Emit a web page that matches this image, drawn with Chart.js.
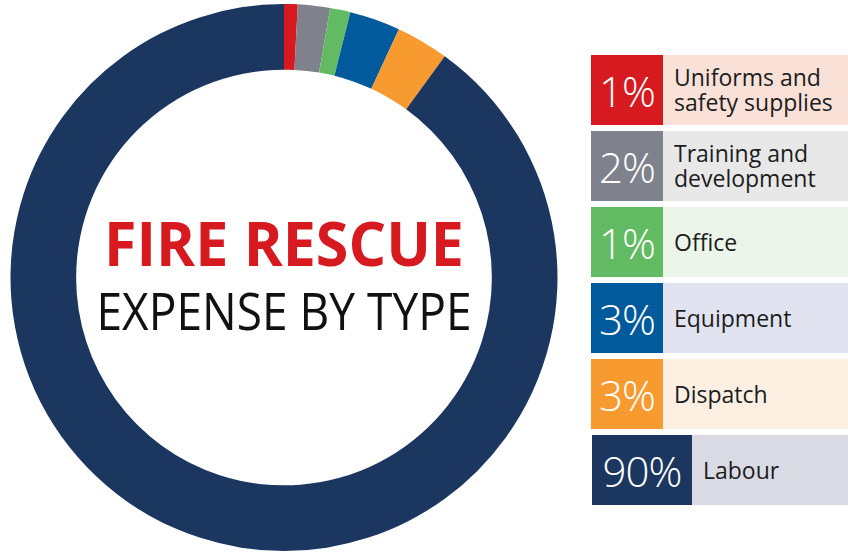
<!DOCTYPE html>
<html>
<head>
<meta charset="utf-8">
<script src="https://cdn.jsdelivr.net/npm/chart.js@4.4.1/dist/chart.umd.min.js"></script>
<style>
  html, body { margin: 0; padding: 0; background: #fff; }
  #wrap { position: relative; width: 848px; height: 555px; overflow: hidden; }
  #chart-box { position: absolute; left: 0; top: 0; width: 568px; height: 555px; }
  #legend { position: absolute; left: 591px; top: 55px; width: 257px; }
  .row { display: flex; height: 70px; margin-bottom: 6px; }
  .pct { width: 72px; color: #fff; font-family: "Open Sans", sans-serif; font-weight: 300;
         font-size: 42px; display: flex; align-items: center; justify-content: center; letter-spacing: -1px; }
  .lbl { flex: 1; display: flex; align-items: center; padding-left: 11px;
         font-family: "Open Sans", sans-serif; font-size: 23px; line-height: 25px; color: #1c1c1c; }
</style>
</head>
<body>
<div id="wrap">
  <div id="chart-box"><canvas id="chart-area"></canvas></div>
  <div id="legend"></div>
</div>
<script>
(function () {
    'use strict';

    var categories = ['Uniforms and safety supplies', 'Training and development', 'Office', 'Equipment', 'Dispatch', 'Labour'];
    var lines = [['Uniforms and', 'safety supplies'], ['Training and', 'development'], ['Office'], ['Equipment'], ['Dispatch'], ['Labour']];
    var values = [0.8, 1.9, 1.2, 3.0, 3.1, 90];
    var percentLabels = ['1%', '2%', '1%', '3%', '3%', '90%'];
    var colors = ['#d71920', '#7f818c', '#62bb63', '#005a9c', '#f79a2f', '#1b365f'];
    var lightColors = ['#f9e1d8', '#e8e8e8', '#ebf5ea', '#e1e3f0', '#fdf0e3', '#dadae4'];

    // legend rows
    var legend = document.getElementById('legend');
    categories.forEach(function (c, i) {
        var row = document.createElement('div');
        row.className = 'row';
        var pct = document.createElement('div');
        pct.className = 'pct';
        pct.style.background = colors[i];
        pct.textContent = percentLabels[i];
        var lbl = document.createElement('div');
        lbl.className = 'lbl';
        lbl.style.background = lightColors[i];
        lbl.innerHTML = lines[i].join('<br>');
        if (percentLabels[i].length > 2) {
            pct.style.width = '100px';
            row.style.marginLeft = '1px';
        }
        row.appendChild(pct);
        row.appendChild(lbl);
        legend.appendChild(row);
    });

    // draws text squeezed to a given width
    function fitText(ctx, text, x, y, maxW) {
        var w = ctx.measureText(text).width;
        var s = Math.min(1, maxW / w);
        ctx.save();
        ctx.translate(x, y);
        ctx.scale(s, 1);
        ctx.fillText(text, 0, 0);
        ctx.restore();
    }

    var centerText = {
        id: 'centerText',
        afterDraw: function (chart) {
            var ctx = chart.ctx;
            var a = chart.chartArea;
            var cx = (a.left + a.right) / 2;
            var cy = (a.top + a.bottom) / 2;
            ctx.save();
            ctx.textAlign = 'center';
            ctx.textBaseline = 'alphabetic';
            ctx.fillStyle = '#d71920';
            ctx.font = 'bold 60px "Open Sans"';
            fitText(ctx, 'FIRE RESCUE', cx, cy - 12, 360);
            ctx.fillStyle = '#111';
            ctx.font = '52px "Open Sans"';
            fitText(ctx, 'EXPENSE BY TYPE', cx, cy + 52, 375);
            ctx.restore();
        }
    };

    var ctx = document.getElementById('chart-area').getContext('2d');
    window.myDoughnut = new Chart(ctx, {
        type: 'doughnut',
        data: {
            labels: categories,
            datasets: [{
                data: values,
                backgroundColor: colors,
                borderWidth: 0
            }]
        },
        options: {
            responsive: true,
            maintainAspectRatio: false,
            animation: false,
            cutout: '76%',
            layout: { padding: 4 },
            plugins: { legend: { display: false }, tooltip: { enabled: false } }
        },
        plugins: [centerText]
    });
})();
</script>
</body>
</html>
